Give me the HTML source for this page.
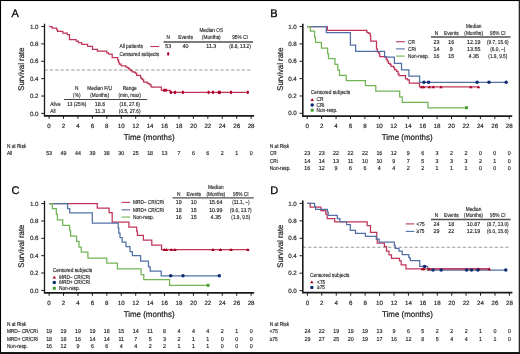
<!DOCTYPE html><html><head><meta charset="utf-8"><style>html,body{margin:0;padding:0;background:#fff;}svg{display:block;will-change:transform;}text{font-family:"Liberation Sans",sans-serif;text-rendering:geometricPrecision;}</style></head><body>
<svg width="520" height="354" viewBox="0 0 520 354">
<rect x="0" y="0" width="520" height="354" fill="#fff"/>
<line x1="44.50" y1="70.00" x2="251.00" y2="70.00" stroke="#9a9a9a" stroke-width="1.1" stroke-dasharray="3.3 2.03"/>
<path d="M44.50 23.70 V115.80" fill="none" stroke="#1a1a1a" stroke-width="1.3"/>
<path d="M43.85 115.80 H254.12" fill="none" stroke="#1a1a1a" stroke-width="1.7"/>
<line x1="41.20" y1="113.40" x2="44.50" y2="113.40" stroke="#1a1a1a" stroke-width="1.0"/>
<text x="38.50" y="115.55" font-size="6.2" text-anchor="end" fill="#1a1a1a" stroke="#1a1a1a" stroke-width="0.15">0.0</text>
<line x1="41.20" y1="96.02" x2="44.50" y2="96.02" stroke="#1a1a1a" stroke-width="1.0"/>
<text x="38.50" y="98.17" font-size="6.2" text-anchor="end" fill="#1a1a1a" stroke="#1a1a1a" stroke-width="0.15">0.2</text>
<line x1="41.20" y1="78.64" x2="44.50" y2="78.64" stroke="#1a1a1a" stroke-width="1.0"/>
<text x="38.50" y="80.79" font-size="6.2" text-anchor="end" fill="#1a1a1a" stroke="#1a1a1a" stroke-width="0.15">0.4</text>
<line x1="41.20" y1="61.26" x2="44.50" y2="61.26" stroke="#1a1a1a" stroke-width="1.0"/>
<text x="38.50" y="63.41" font-size="6.2" text-anchor="end" fill="#1a1a1a" stroke="#1a1a1a" stroke-width="0.15">0.6</text>
<line x1="41.20" y1="43.88" x2="44.50" y2="43.88" stroke="#1a1a1a" stroke-width="1.0"/>
<text x="38.50" y="46.03" font-size="6.2" text-anchor="end" fill="#1a1a1a" stroke="#1a1a1a" stroke-width="0.15">0.8</text>
<line x1="41.20" y1="26.50" x2="44.50" y2="26.50" stroke="#1a1a1a" stroke-width="1.0"/>
<text x="38.50" y="28.65" font-size="6.2" text-anchor="end" fill="#1a1a1a" stroke="#1a1a1a" stroke-width="0.15">1.0</text>
<line x1="49.10" y1="115.80" x2="49.10" y2="118.80" stroke="#1a1a1a" stroke-width="1.0"/>
<text x="49.10" y="127.60" font-size="6.2" text-anchor="middle" fill="#1a1a1a" stroke="#1a1a1a" stroke-width="0.15">0</text>
<line x1="63.53" y1="115.80" x2="63.53" y2="118.80" stroke="#1a1a1a" stroke-width="1.0"/>
<text x="63.53" y="127.60" font-size="6.2" text-anchor="middle" fill="#1a1a1a" stroke="#1a1a1a" stroke-width="0.15">2</text>
<line x1="77.96" y1="115.80" x2="77.96" y2="118.80" stroke="#1a1a1a" stroke-width="1.0"/>
<text x="77.96" y="127.60" font-size="6.2" text-anchor="middle" fill="#1a1a1a" stroke="#1a1a1a" stroke-width="0.15">4</text>
<line x1="92.39" y1="115.80" x2="92.39" y2="118.80" stroke="#1a1a1a" stroke-width="1.0"/>
<text x="92.39" y="127.60" font-size="6.2" text-anchor="middle" fill="#1a1a1a" stroke="#1a1a1a" stroke-width="0.15">6</text>
<line x1="106.82" y1="115.80" x2="106.82" y2="118.80" stroke="#1a1a1a" stroke-width="1.0"/>
<text x="106.82" y="127.60" font-size="6.2" text-anchor="middle" fill="#1a1a1a" stroke="#1a1a1a" stroke-width="0.15">8</text>
<line x1="121.25" y1="115.80" x2="121.25" y2="118.80" stroke="#1a1a1a" stroke-width="1.0"/>
<text x="121.25" y="127.60" font-size="6.2" text-anchor="middle" fill="#1a1a1a" stroke="#1a1a1a" stroke-width="0.15">10</text>
<line x1="135.68" y1="115.80" x2="135.68" y2="118.80" stroke="#1a1a1a" stroke-width="1.0"/>
<text x="135.68" y="127.60" font-size="6.2" text-anchor="middle" fill="#1a1a1a" stroke="#1a1a1a" stroke-width="0.15">12</text>
<line x1="150.11" y1="115.80" x2="150.11" y2="118.80" stroke="#1a1a1a" stroke-width="1.0"/>
<text x="150.11" y="127.60" font-size="6.2" text-anchor="middle" fill="#1a1a1a" stroke="#1a1a1a" stroke-width="0.15">14</text>
<line x1="164.54" y1="115.80" x2="164.54" y2="118.80" stroke="#1a1a1a" stroke-width="1.0"/>
<text x="164.54" y="127.60" font-size="6.2" text-anchor="middle" fill="#1a1a1a" stroke="#1a1a1a" stroke-width="0.15">16</text>
<line x1="178.97" y1="115.80" x2="178.97" y2="118.80" stroke="#1a1a1a" stroke-width="1.0"/>
<text x="178.97" y="127.60" font-size="6.2" text-anchor="middle" fill="#1a1a1a" stroke="#1a1a1a" stroke-width="0.15">18</text>
<line x1="193.40" y1="115.80" x2="193.40" y2="118.80" stroke="#1a1a1a" stroke-width="1.0"/>
<text x="193.40" y="127.60" font-size="6.2" text-anchor="middle" fill="#1a1a1a" stroke="#1a1a1a" stroke-width="0.15">20</text>
<line x1="207.83" y1="115.80" x2="207.83" y2="118.80" stroke="#1a1a1a" stroke-width="1.0"/>
<text x="207.83" y="127.60" font-size="6.2" text-anchor="middle" fill="#1a1a1a" stroke="#1a1a1a" stroke-width="0.15">22</text>
<line x1="222.26" y1="115.80" x2="222.26" y2="118.80" stroke="#1a1a1a" stroke-width="1.0"/>
<text x="222.26" y="127.60" font-size="6.2" text-anchor="middle" fill="#1a1a1a" stroke="#1a1a1a" stroke-width="0.15">24</text>
<line x1="236.69" y1="115.80" x2="236.69" y2="118.80" stroke="#1a1a1a" stroke-width="1.0"/>
<text x="236.69" y="127.60" font-size="6.2" text-anchor="middle" fill="#1a1a1a" stroke="#1a1a1a" stroke-width="0.15">26</text>
<line x1="251.12" y1="115.80" x2="251.12" y2="118.80" stroke="#1a1a1a" stroke-width="1.0"/>
<text x="251.12" y="127.60" font-size="6.2" text-anchor="middle" fill="#1a1a1a" stroke="#1a1a1a" stroke-width="0.15">28</text>
<text transform="translate(149.11 140.10) scale(0.97 1)" font-size="8.2" text-anchor="middle" fill="#1a1a1a" stroke="#1a1a1a" stroke-width="0.2">Time (months)</text>
<text transform="translate(24.40,69.15) rotate(-90) scale(0.95 1)" font-size="8.2" text-anchor="middle" fill="#1a1a1a" stroke="#1a1a1a" stroke-width="0.2">Survival rate</text>
<text x="11.60" y="16.90" font-size="11" text-anchor="start" fill="#000" stroke="#000" stroke-width="0.25">A</text>
<path d="M49.10 26.50 H52.10 V28.20 H56.70 V29.80 H57.60 V31.30 H62.80 V33.20 H67.30 V34.70 H69.50 V39.60 H76.20 V41.00 H78.30 V42.70 H81.70 V44.30 H87.60 V46.30 H92.50 V49.30 H97.40 V51.10 H106.80 V52.80 H108.60 V54.20 H112.20 V57.70 H117.60 V59.90 H118.50 V62.10 H119.20 V64.00 H121.20 V65.90 H125.90 V67.00 H127.50 V67.70 H128.60 V68.80 H130.00 V70.00 H131.00 V70.50 H132.20 V71.90 H134.40 V72.30 H135.70 V73.30 H136.70 V75.30 H140.60 V77.80 H141.60 V78.80 H142.60 V79.90 H143.70 V82.20 H147.00 V83.10 H148.50 V83.80 H150.00 V84.80 H151.10 V86.60 H151.80 V87.10 H161.40 V90.30 H170.00 V92.40 H248.00" fill="none" stroke="#c03458" stroke-width="1.25" stroke-linejoin="miter" stroke-linecap="butt"/>
<ellipse cx="164.10" cy="90.30" rx="1.15" ry="1.8" fill="#b0002a"/>
<ellipse cx="166.10" cy="90.30" rx="1.15" ry="1.8" fill="#b0002a"/>
<ellipse cx="170.90" cy="92.40" rx="1.15" ry="1.8" fill="#b0002a"/>
<ellipse cx="175.00" cy="92.40" rx="1.15" ry="1.8" fill="#b0002a"/>
<ellipse cx="182.90" cy="92.40" rx="1.15" ry="1.8" fill="#b0002a"/>
<ellipse cx="208.60" cy="92.40" rx="1.15" ry="1.8" fill="#b0002a"/>
<ellipse cx="213.00" cy="92.40" rx="1.15" ry="1.8" fill="#b0002a"/>
<ellipse cx="218.80" cy="92.40" rx="1.15" ry="1.8" fill="#b0002a"/>
<ellipse cx="219.90" cy="92.40" rx="1.15" ry="1.8" fill="#b0002a"/>
<ellipse cx="231.00" cy="92.40" rx="1.15" ry="1.8" fill="#b0002a"/>
<ellipse cx="247.80" cy="92.40" rx="1.15" ry="1.8" fill="#b0002a"/>
<text transform="translate(119.50 48.30) scale(0.82 1)" font-size="5.8" text-anchor="start" fill="#1a1a1a" stroke="#1a1a1a" stroke-width="0.14">All patients</text>
<line x1="150.30" y1="46.50" x2="159.20" y2="46.50" stroke="#c03458" stroke-width="1.1"/>
<text transform="translate(119.50 55.70) scale(0.82 1)" font-size="5.8" text-anchor="start" fill="#1a1a1a" stroke="#1a1a1a" stroke-width="0.14">Censored subjects</text>
<ellipse cx="168.20" cy="53.90" rx="1.15" ry="1.8" fill="#b0002a"/>
<text transform="translate(211.30 32.40) scale(0.82 1)" font-size="5.8" text-anchor="middle" fill="#1a1a1a" stroke="#1a1a1a" stroke-width="0.14">Median OS</text>
<text transform="translate(168.20 39.10) scale(0.82 1)" font-size="5.8" text-anchor="middle" fill="#1a1a1a" stroke="#1a1a1a" stroke-width="0.14">N</text>
<text transform="translate(185.50 39.10) scale(0.82 1)" font-size="5.8" text-anchor="middle" fill="#1a1a1a" stroke="#1a1a1a" stroke-width="0.14">Events</text>
<text transform="translate(211.30 39.10) scale(0.82 1)" font-size="5.8" text-anchor="middle" fill="#1a1a1a" stroke="#1a1a1a" stroke-width="0.14">(Months)</text>
<text transform="translate(240.00 39.10) scale(0.82 1)" font-size="5.8" text-anchor="middle" fill="#1a1a1a" stroke="#1a1a1a" stroke-width="0.14">95% CI</text>
<line x1="163.50" y1="42.00" x2="253.00" y2="42.00" stroke="#505050" stroke-width="1.35"/>
<text transform="translate(168.20 48.30) scale(0.92 1)" font-size="5.8" text-anchor="middle" fill="#1a1a1a" stroke="#1a1a1a" stroke-width="0.14">53</text>
<text transform="translate(185.50 48.30) scale(0.92 1)" font-size="5.8" text-anchor="middle" fill="#1a1a1a" stroke="#1a1a1a" stroke-width="0.14">40</text>
<text transform="translate(211.30 48.30) scale(0.92 1)" font-size="5.8" text-anchor="middle" fill="#1a1a1a" stroke="#1a1a1a" stroke-width="0.14">11.3</text>
<text transform="translate(240.00 48.30) scale(0.82 1)" font-size="5.8" text-anchor="middle" fill="#1a1a1a" stroke="#1a1a1a" stroke-width="0.14">(8.8, 13.2)</text>
<text transform="translate(76.80 90.30) scale(0.82 1)" font-size="5.8" text-anchor="middle" fill="#1a1a1a" stroke="#1a1a1a" stroke-width="0.14">N</text>
<text transform="translate(76.80 97.00) scale(0.82 1)" font-size="5.8" text-anchor="middle" fill="#1a1a1a" stroke="#1a1a1a" stroke-width="0.14">(%)</text>
<text transform="translate(99.60 90.30) scale(0.82 1)" font-size="5.8" text-anchor="middle" fill="#1a1a1a" stroke="#1a1a1a" stroke-width="0.14">Median F/U</text>
<text transform="translate(99.60 97.00) scale(0.82 1)" font-size="5.8" text-anchor="middle" fill="#1a1a1a" stroke="#1a1a1a" stroke-width="0.14">(Months)</text>
<text transform="translate(129.70 90.30) scale(0.82 1)" font-size="5.8" text-anchor="middle" fill="#1a1a1a" stroke="#1a1a1a" stroke-width="0.14">Range</text>
<text transform="translate(129.70 97.00) scale(0.82 1)" font-size="5.8" text-anchor="middle" fill="#1a1a1a" stroke="#1a1a1a" stroke-width="0.14">(min, max)</text>
<line x1="64.00" y1="99.50" x2="147.20" y2="99.50" stroke="#444" stroke-width="1.2"/>
<text transform="translate(50.30 105.70) scale(0.82 1)" font-size="5.8" text-anchor="start" fill="#1a1a1a" stroke="#1a1a1a" stroke-width="0.14">Alive</text>
<text transform="translate(50.30 113.10) scale(0.82 1)" font-size="5.8" text-anchor="start" fill="#1a1a1a" stroke="#1a1a1a" stroke-width="0.14">All</text>
<text transform="translate(76.80 105.70) scale(0.82 1)" font-size="5.8" text-anchor="middle" fill="#1a1a1a" stroke="#1a1a1a" stroke-width="0.14">13 (25%)</text>
<text transform="translate(100.00 105.70) scale(0.92 1)" font-size="5.8" text-anchor="middle" fill="#1a1a1a" stroke="#1a1a1a" stroke-width="0.14">18.6</text>
<text transform="translate(129.70 105.70) scale(0.82 1)" font-size="5.8" text-anchor="middle" fill="#1a1a1a" stroke="#1a1a1a" stroke-width="0.14">(16, 27.6)</text>
<text transform="translate(100.00 113.10) scale(0.92 1)" font-size="5.8" text-anchor="middle" fill="#1a1a1a" stroke="#1a1a1a" stroke-width="0.14">11.3</text>
<text transform="translate(129.70 113.10) scale(0.82 1)" font-size="5.8" text-anchor="middle" fill="#1a1a1a" stroke="#1a1a1a" stroke-width="0.14">(0.5, 27.6)</text>
<text transform="translate(6.90 148.20) scale(0.82 1)" font-size="5.8" text-anchor="start" fill="#1a1a1a" stroke="#1a1a1a" stroke-width="0.14">N at Risk</text>
<text transform="translate(6.90 155.30) scale(0.82 1)" font-size="5.8" text-anchor="start" fill="#1a1a1a" stroke="#1a1a1a" stroke-width="0.14">All</text>
<text transform="translate(49.10 155.30) scale(0.92 1)" font-size="5.8" text-anchor="middle" fill="#1a1a1a" stroke="#1a1a1a" stroke-width="0.14">53</text>
<text transform="translate(63.53 155.30) scale(0.92 1)" font-size="5.8" text-anchor="middle" fill="#1a1a1a" stroke="#1a1a1a" stroke-width="0.14">49</text>
<text transform="translate(77.96 155.30) scale(0.92 1)" font-size="5.8" text-anchor="middle" fill="#1a1a1a" stroke="#1a1a1a" stroke-width="0.14">44</text>
<text transform="translate(92.39 155.30) scale(0.92 1)" font-size="5.8" text-anchor="middle" fill="#1a1a1a" stroke="#1a1a1a" stroke-width="0.14">39</text>
<text transform="translate(106.82 155.30) scale(0.92 1)" font-size="5.8" text-anchor="middle" fill="#1a1a1a" stroke="#1a1a1a" stroke-width="0.14">38</text>
<text transform="translate(121.25 155.30) scale(0.92 1)" font-size="5.8" text-anchor="middle" fill="#1a1a1a" stroke="#1a1a1a" stroke-width="0.14">30</text>
<text transform="translate(135.68 155.30) scale(0.92 1)" font-size="5.8" text-anchor="middle" fill="#1a1a1a" stroke="#1a1a1a" stroke-width="0.14">25</text>
<text transform="translate(150.11 155.30) scale(0.92 1)" font-size="5.8" text-anchor="middle" fill="#1a1a1a" stroke="#1a1a1a" stroke-width="0.14">18</text>
<text transform="translate(164.54 155.30) scale(0.92 1)" font-size="5.8" text-anchor="middle" fill="#1a1a1a" stroke="#1a1a1a" stroke-width="0.14">13</text>
<text transform="translate(178.97 155.30) scale(0.92 1)" font-size="5.8" text-anchor="middle" fill="#1a1a1a" stroke="#1a1a1a" stroke-width="0.14">7</text>
<text transform="translate(193.40 155.30) scale(0.92 1)" font-size="5.8" text-anchor="middle" fill="#1a1a1a" stroke="#1a1a1a" stroke-width="0.14">6</text>
<text transform="translate(207.83 155.30) scale(0.92 1)" font-size="5.8" text-anchor="middle" fill="#1a1a1a" stroke="#1a1a1a" stroke-width="0.14">6</text>
<text transform="translate(222.26 155.30) scale(0.92 1)" font-size="5.8" text-anchor="middle" fill="#1a1a1a" stroke="#1a1a1a" stroke-width="0.14">2</text>
<text transform="translate(236.69 155.30) scale(0.92 1)" font-size="5.8" text-anchor="middle" fill="#1a1a1a" stroke="#1a1a1a" stroke-width="0.14">1</text>
<text transform="translate(251.12 155.30) scale(0.92 1)" font-size="5.8" text-anchor="middle" fill="#1a1a1a" stroke="#1a1a1a" stroke-width="0.14">0</text>
<path d="M302.80 23.80 V116.10" fill="none" stroke="#1a1a1a" stroke-width="1.6"/>
<path d="M302.00 116.10 H512.22" fill="none" stroke="#1a1a1a" stroke-width="1.7"/>
<line x1="299.50" y1="113.30" x2="302.80" y2="113.30" stroke="#1a1a1a" stroke-width="1.0"/>
<text x="296.80" y="115.45" font-size="6.2" text-anchor="end" fill="#1a1a1a" stroke="#1a1a1a" stroke-width="0.15">0.0</text>
<line x1="299.50" y1="95.96" x2="302.80" y2="95.96" stroke="#1a1a1a" stroke-width="1.0"/>
<text x="296.80" y="98.11" font-size="6.2" text-anchor="end" fill="#1a1a1a" stroke="#1a1a1a" stroke-width="0.15">0.2</text>
<line x1="299.50" y1="78.62" x2="302.80" y2="78.62" stroke="#1a1a1a" stroke-width="1.0"/>
<text x="296.80" y="80.77" font-size="6.2" text-anchor="end" fill="#1a1a1a" stroke="#1a1a1a" stroke-width="0.15">0.4</text>
<line x1="299.50" y1="61.28" x2="302.80" y2="61.28" stroke="#1a1a1a" stroke-width="1.0"/>
<text x="296.80" y="63.43" font-size="6.2" text-anchor="end" fill="#1a1a1a" stroke="#1a1a1a" stroke-width="0.15">0.6</text>
<line x1="299.50" y1="43.94" x2="302.80" y2="43.94" stroke="#1a1a1a" stroke-width="1.0"/>
<text x="296.80" y="46.09" font-size="6.2" text-anchor="end" fill="#1a1a1a" stroke="#1a1a1a" stroke-width="0.15">0.8</text>
<line x1="299.50" y1="26.60" x2="302.80" y2="26.60" stroke="#1a1a1a" stroke-width="1.0"/>
<text x="296.80" y="28.75" font-size="6.2" text-anchor="end" fill="#1a1a1a" stroke="#1a1a1a" stroke-width="0.15">1.0</text>
<line x1="307.20" y1="116.10" x2="307.20" y2="119.10" stroke="#1a1a1a" stroke-width="1.0"/>
<text x="307.20" y="127.90" font-size="6.2" text-anchor="middle" fill="#1a1a1a" stroke="#1a1a1a" stroke-width="0.15">0</text>
<line x1="321.63" y1="116.10" x2="321.63" y2="119.10" stroke="#1a1a1a" stroke-width="1.0"/>
<text x="321.63" y="127.90" font-size="6.2" text-anchor="middle" fill="#1a1a1a" stroke="#1a1a1a" stroke-width="0.15">2</text>
<line x1="336.06" y1="116.10" x2="336.06" y2="119.10" stroke="#1a1a1a" stroke-width="1.0"/>
<text x="336.06" y="127.90" font-size="6.2" text-anchor="middle" fill="#1a1a1a" stroke="#1a1a1a" stroke-width="0.15">4</text>
<line x1="350.49" y1="116.10" x2="350.49" y2="119.10" stroke="#1a1a1a" stroke-width="1.0"/>
<text x="350.49" y="127.90" font-size="6.2" text-anchor="middle" fill="#1a1a1a" stroke="#1a1a1a" stroke-width="0.15">6</text>
<line x1="364.92" y1="116.10" x2="364.92" y2="119.10" stroke="#1a1a1a" stroke-width="1.0"/>
<text x="364.92" y="127.90" font-size="6.2" text-anchor="middle" fill="#1a1a1a" stroke="#1a1a1a" stroke-width="0.15">8</text>
<line x1="379.35" y1="116.10" x2="379.35" y2="119.10" stroke="#1a1a1a" stroke-width="1.0"/>
<text x="379.35" y="127.90" font-size="6.2" text-anchor="middle" fill="#1a1a1a" stroke="#1a1a1a" stroke-width="0.15">10</text>
<line x1="393.78" y1="116.10" x2="393.78" y2="119.10" stroke="#1a1a1a" stroke-width="1.0"/>
<text x="393.78" y="127.90" font-size="6.2" text-anchor="middle" fill="#1a1a1a" stroke="#1a1a1a" stroke-width="0.15">12</text>
<line x1="408.21" y1="116.10" x2="408.21" y2="119.10" stroke="#1a1a1a" stroke-width="1.0"/>
<text x="408.21" y="127.90" font-size="6.2" text-anchor="middle" fill="#1a1a1a" stroke="#1a1a1a" stroke-width="0.15">14</text>
<line x1="422.64" y1="116.10" x2="422.64" y2="119.10" stroke="#1a1a1a" stroke-width="1.0"/>
<text x="422.64" y="127.90" font-size="6.2" text-anchor="middle" fill="#1a1a1a" stroke="#1a1a1a" stroke-width="0.15">16</text>
<line x1="437.07" y1="116.10" x2="437.07" y2="119.10" stroke="#1a1a1a" stroke-width="1.0"/>
<text x="437.07" y="127.90" font-size="6.2" text-anchor="middle" fill="#1a1a1a" stroke="#1a1a1a" stroke-width="0.15">18</text>
<line x1="451.50" y1="116.10" x2="451.50" y2="119.10" stroke="#1a1a1a" stroke-width="1.0"/>
<text x="451.50" y="127.90" font-size="6.2" text-anchor="middle" fill="#1a1a1a" stroke="#1a1a1a" stroke-width="0.15">20</text>
<line x1="465.93" y1="116.10" x2="465.93" y2="119.10" stroke="#1a1a1a" stroke-width="1.0"/>
<text x="465.93" y="127.90" font-size="6.2" text-anchor="middle" fill="#1a1a1a" stroke="#1a1a1a" stroke-width="0.15">22</text>
<line x1="480.36" y1="116.10" x2="480.36" y2="119.10" stroke="#1a1a1a" stroke-width="1.0"/>
<text x="480.36" y="127.90" font-size="6.2" text-anchor="middle" fill="#1a1a1a" stroke="#1a1a1a" stroke-width="0.15">24</text>
<line x1="494.79" y1="116.10" x2="494.79" y2="119.10" stroke="#1a1a1a" stroke-width="1.0"/>
<text x="494.79" y="127.90" font-size="6.2" text-anchor="middle" fill="#1a1a1a" stroke="#1a1a1a" stroke-width="0.15">26</text>
<line x1="509.22" y1="116.10" x2="509.22" y2="119.10" stroke="#1a1a1a" stroke-width="1.0"/>
<text x="509.22" y="127.90" font-size="6.2" text-anchor="middle" fill="#1a1a1a" stroke="#1a1a1a" stroke-width="0.15">28</text>
<text transform="translate(407.21 140.40) scale(0.97 1)" font-size="8.2" text-anchor="middle" fill="#1a1a1a" stroke="#1a1a1a" stroke-width="0.2">Time (months)</text>
<text transform="translate(282.70,69.15) rotate(-90) scale(0.95 1)" font-size="8.2" text-anchor="middle" fill="#1a1a1a" stroke="#1a1a1a" stroke-width="0.2">Survival rate</text>
<text x="270.20" y="17.00" font-size="11" text-anchor="start" fill="#000" stroke="#000" stroke-width="0.25">B</text>
<path d="M307.20 26.60 H327.30 V30.40 H366.50 V31.10 H367.00 V32.50 H368.80 V33.40 H370.20 V35.40 H370.70 V41.10 H376.50 V48.80 H377.30 V51.80 H378.70 V53.20 H379.70 V56.50 H386.20 V59.00 H387.30 V61.00 H388.40 V63.40 H390.00 V64.40 H391.00 V66.40 H393.70 V67.90 H394.60 V69.90 H396.60 V71.30 H398.00 V73.80 H399.00 V75.50 H405.50 V78.80 H407.50 V79.80 H409.30 V83.20 H419.50 V86.80 H478.50" fill="none" stroke="#c03458" stroke-width="1.25" stroke-linejoin="miter" stroke-linecap="butt"/>
<path d="M307.20 26.60 H326.30 V32.60 H350.40 V45.10 H355.60 V51.30 H384.60 V57.10 H394.40 V63.40 H401.50 V69.80 H408.90 V76.00 H419.60 V82.40 H506.50" fill="none" stroke="#5270a5" stroke-width="1.25" stroke-linejoin="miter" stroke-linecap="butt"/>
<path d="M307.20 26.60 H310.40 V31.20 H314.60 V37.20 H315.50 V42.30 H321.40 V48.10 H327.60 V53.60 H328.50 V58.60 H335.00 V64.30 H337.80 V70.00 H339.50 V75.30 H346.20 V80.50 H365.40 V85.70 H375.80 V91.20 H399.70 V96.90 H402.30 V102.40 H427.90 V107.90 H466.50" fill="none" stroke="#72b454" stroke-width="1.25" stroke-linejoin="miter" stroke-linecap="butt"/>
<path d="M421.70 85.40 L423.50 88.30 L419.90 88.30 Z" fill="#a8001e"/>
<path d="M423.70 85.40 L425.50 88.30 L421.90 88.30 Z" fill="#a8001e"/>
<path d="M429.40 85.40 L431.20 88.30 L427.60 88.30 Z" fill="#a8001e"/>
<path d="M433.30 85.40 L435.10 88.30 L431.50 88.30 Z" fill="#a8001e"/>
<path d="M441.00 85.40 L442.80 88.30 L439.20 88.30 Z" fill="#a8001e"/>
<path d="M470.80 85.40 L472.60 88.30 L469.00 88.30 Z" fill="#a8001e"/>
<path d="M478.50 85.40 L480.30 88.30 L476.70 88.30 Z" fill="#a8001e"/>
<circle cx="424.00" cy="82.30" r="1.75" fill="#0d2b6e"/>
<circle cx="428.60" cy="82.30" r="1.75" fill="#0d2b6e"/>
<circle cx="477.10" cy="82.30" r="1.75" fill="#0d2b6e"/>
<circle cx="489.00" cy="82.30" r="1.75" fill="#0d2b6e"/>
<circle cx="506.20" cy="82.30" r="1.75" fill="#0d2b6e"/>
<rect x="465.05" y="106.25" width="2.9" height="2.9" fill="#3f9a26"/>
<text transform="translate(473.70 28.30) scale(0.82 1)" font-size="5.8" text-anchor="middle" fill="#1a1a1a" stroke="#1a1a1a" stroke-width="0.14">Median</text>
<text transform="translate(436.50 34.50) scale(0.82 1)" font-size="5.8" text-anchor="middle" fill="#1a1a1a" stroke="#1a1a1a" stroke-width="0.14">N</text>
<text transform="translate(451.30 34.50) scale(0.82 1)" font-size="5.8" text-anchor="middle" fill="#1a1a1a" stroke="#1a1a1a" stroke-width="0.14">Events</text>
<text transform="translate(473.70 34.50) scale(0.82 1)" font-size="5.8" text-anchor="middle" fill="#1a1a1a" stroke="#1a1a1a" stroke-width="0.14">(Months)</text>
<text transform="translate(497.80 34.50) scale(0.82 1)" font-size="5.8" text-anchor="middle" fill="#1a1a1a" stroke="#1a1a1a" stroke-width="0.14">95% CI</text>
<line x1="431.00" y1="37.00" x2="510.60" y2="37.00" stroke="#505050" stroke-width="1.35"/>
<line x1="396.10" y1="41.70" x2="404.80" y2="41.70" stroke="#c03458" stroke-width="1.1"/>
<text transform="translate(408.00 43.50) scale(0.82 1)" font-size="5.8" text-anchor="start" fill="#1a1a1a" stroke="#1a1a1a" stroke-width="0.14">CR</text>
<text transform="translate(436.50 43.50) scale(0.92 1)" font-size="5.8" text-anchor="middle" fill="#1a1a1a" stroke="#1a1a1a" stroke-width="0.14">23</text>
<text transform="translate(451.30 43.50) scale(0.92 1)" font-size="5.8" text-anchor="middle" fill="#1a1a1a" stroke="#1a1a1a" stroke-width="0.14">16</text>
<text transform="translate(473.70 43.50) scale(0.92 1)" font-size="5.8" text-anchor="middle" fill="#1a1a1a" stroke="#1a1a1a" stroke-width="0.14">12.19</text>
<text transform="translate(497.80 43.50) scale(0.82 1)" font-size="5.8" text-anchor="middle" fill="#1a1a1a" stroke="#1a1a1a" stroke-width="0.14">(9.7, 15.6)</text>
<line x1="396.10" y1="48.90" x2="404.80" y2="48.90" stroke="#5270a5" stroke-width="1.1"/>
<text transform="translate(408.00 50.70) scale(0.82 1)" font-size="5.8" text-anchor="start" fill="#1a1a1a" stroke="#1a1a1a" stroke-width="0.14">CRi</text>
<text transform="translate(436.50 50.70) scale(0.92 1)" font-size="5.8" text-anchor="middle" fill="#1a1a1a" stroke="#1a1a1a" stroke-width="0.14">14</text>
<text transform="translate(451.30 50.70) scale(0.92 1)" font-size="5.8" text-anchor="middle" fill="#1a1a1a" stroke="#1a1a1a" stroke-width="0.14">9</text>
<text transform="translate(473.70 50.70) scale(0.92 1)" font-size="5.8" text-anchor="middle" fill="#1a1a1a" stroke="#1a1a1a" stroke-width="0.14">13.55</text>
<text transform="translate(497.80 50.70) scale(0.82 1)" font-size="5.8" text-anchor="middle" fill="#1a1a1a" stroke="#1a1a1a" stroke-width="0.14">(6.0, –)</text>
<line x1="396.10" y1="56.10" x2="404.80" y2="56.10" stroke="#72b454" stroke-width="1.1"/>
<text transform="translate(408.00 57.90) scale(0.82 1)" font-size="5.8" text-anchor="start" fill="#1a1a1a" stroke="#1a1a1a" stroke-width="0.14">Non-resp.</text>
<text transform="translate(436.50 57.90) scale(0.92 1)" font-size="5.8" text-anchor="middle" fill="#1a1a1a" stroke="#1a1a1a" stroke-width="0.14">16</text>
<text transform="translate(451.30 57.90) scale(0.92 1)" font-size="5.8" text-anchor="middle" fill="#1a1a1a" stroke="#1a1a1a" stroke-width="0.14">15</text>
<text transform="translate(473.70 57.90) scale(0.92 1)" font-size="5.8" text-anchor="middle" fill="#1a1a1a" stroke="#1a1a1a" stroke-width="0.14">4.35</text>
<text transform="translate(497.80 57.90) scale(0.82 1)" font-size="5.8" text-anchor="middle" fill="#1a1a1a" stroke="#1a1a1a" stroke-width="0.14">(1.9, 9.5)</text>
<text transform="translate(310.80 94.30) scale(0.82 1)" font-size="5.8" text-anchor="start" fill="#1a1a1a" stroke="#1a1a1a" stroke-width="0.14">Censored subjects</text>
<path d="M312.20 98.20 L314.00 101.10 L310.40 101.10 Z" fill="#a8001e"/>
<text transform="translate(316.50 101.20) scale(0.82 1)" font-size="5.8" text-anchor="start" fill="#1a1a1a" stroke="#1a1a1a" stroke-width="0.14">CR</text>
<circle cx="312.20" cy="104.90" r="1.75" fill="#0d2b6e"/>
<text transform="translate(316.50 106.60) scale(0.82 1)" font-size="5.8" text-anchor="start" fill="#1a1a1a" stroke="#1a1a1a" stroke-width="0.14">CRi</text>
<rect x="310.75" y="108.75" width="2.9" height="2.9" fill="#3f9a26"/>
<text transform="translate(316.50 111.90) scale(0.82 1)" font-size="5.8" text-anchor="start" fill="#1a1a1a" stroke="#1a1a1a" stroke-width="0.14">Non-resp.</text>
<text transform="translate(269.80 148.10) scale(0.82 1)" font-size="5.8" text-anchor="start" fill="#1a1a1a" stroke="#1a1a1a" stroke-width="0.14">N at Risk</text>
<text transform="translate(269.80 155.30) scale(0.82 1)" font-size="5.8" text-anchor="start" fill="#1a1a1a" stroke="#1a1a1a" stroke-width="0.14">CR</text>
<text transform="translate(307.20 155.30) scale(0.92 1)" font-size="5.8" text-anchor="middle" fill="#1a1a1a" stroke="#1a1a1a" stroke-width="0.14">23</text>
<text transform="translate(321.63 155.30) scale(0.92 1)" font-size="5.8" text-anchor="middle" fill="#1a1a1a" stroke="#1a1a1a" stroke-width="0.14">23</text>
<text transform="translate(336.06 155.30) scale(0.92 1)" font-size="5.8" text-anchor="middle" fill="#1a1a1a" stroke="#1a1a1a" stroke-width="0.14">22</text>
<text transform="translate(350.49 155.30) scale(0.92 1)" font-size="5.8" text-anchor="middle" fill="#1a1a1a" stroke="#1a1a1a" stroke-width="0.14">22</text>
<text transform="translate(364.92 155.30) scale(0.92 1)" font-size="5.8" text-anchor="middle" fill="#1a1a1a" stroke="#1a1a1a" stroke-width="0.14">22</text>
<text transform="translate(379.35 155.30) scale(0.92 1)" font-size="5.8" text-anchor="middle" fill="#1a1a1a" stroke="#1a1a1a" stroke-width="0.14">16</text>
<text transform="translate(393.78 155.30) scale(0.92 1)" font-size="5.8" text-anchor="middle" fill="#1a1a1a" stroke="#1a1a1a" stroke-width="0.14">12</text>
<text transform="translate(408.21 155.30) scale(0.92 1)" font-size="5.8" text-anchor="middle" fill="#1a1a1a" stroke="#1a1a1a" stroke-width="0.14">9</text>
<text transform="translate(422.64 155.30) scale(0.92 1)" font-size="5.8" text-anchor="middle" fill="#1a1a1a" stroke="#1a1a1a" stroke-width="0.14">6</text>
<text transform="translate(437.07 155.30) scale(0.92 1)" font-size="5.8" text-anchor="middle" fill="#1a1a1a" stroke="#1a1a1a" stroke-width="0.14">3</text>
<text transform="translate(451.50 155.30) scale(0.92 1)" font-size="5.8" text-anchor="middle" fill="#1a1a1a" stroke="#1a1a1a" stroke-width="0.14">2</text>
<text transform="translate(465.93 155.30) scale(0.92 1)" font-size="5.8" text-anchor="middle" fill="#1a1a1a" stroke="#1a1a1a" stroke-width="0.14">2</text>
<text transform="translate(480.36 155.30) scale(0.92 1)" font-size="5.8" text-anchor="middle" fill="#1a1a1a" stroke="#1a1a1a" stroke-width="0.14">0</text>
<text transform="translate(494.79 155.30) scale(0.92 1)" font-size="5.8" text-anchor="middle" fill="#1a1a1a" stroke="#1a1a1a" stroke-width="0.14">0</text>
<text transform="translate(509.22 155.30) scale(0.92 1)" font-size="5.8" text-anchor="middle" fill="#1a1a1a" stroke="#1a1a1a" stroke-width="0.14">0</text>
<text transform="translate(269.80 162.50) scale(0.82 1)" font-size="5.8" text-anchor="start" fill="#1a1a1a" stroke="#1a1a1a" stroke-width="0.14">CRi</text>
<text transform="translate(307.20 162.50) scale(0.92 1)" font-size="5.8" text-anchor="middle" fill="#1a1a1a" stroke="#1a1a1a" stroke-width="0.14">14</text>
<text transform="translate(321.63 162.50) scale(0.92 1)" font-size="5.8" text-anchor="middle" fill="#1a1a1a" stroke="#1a1a1a" stroke-width="0.14">14</text>
<text transform="translate(336.06 162.50) scale(0.92 1)" font-size="5.8" text-anchor="middle" fill="#1a1a1a" stroke="#1a1a1a" stroke-width="0.14">13</text>
<text transform="translate(350.49 162.50) scale(0.92 1)" font-size="5.8" text-anchor="middle" fill="#1a1a1a" stroke="#1a1a1a" stroke-width="0.14">11</text>
<text transform="translate(364.92 162.50) scale(0.92 1)" font-size="5.8" text-anchor="middle" fill="#1a1a1a" stroke="#1a1a1a" stroke-width="0.14">10</text>
<text transform="translate(379.35 162.50) scale(0.92 1)" font-size="5.8" text-anchor="middle" fill="#1a1a1a" stroke="#1a1a1a" stroke-width="0.14">10</text>
<text transform="translate(393.78 162.50) scale(0.92 1)" font-size="5.8" text-anchor="middle" fill="#1a1a1a" stroke="#1a1a1a" stroke-width="0.14">9</text>
<text transform="translate(408.21 162.50) scale(0.92 1)" font-size="5.8" text-anchor="middle" fill="#1a1a1a" stroke="#1a1a1a" stroke-width="0.14">7</text>
<text transform="translate(422.64 162.50) scale(0.92 1)" font-size="5.8" text-anchor="middle" fill="#1a1a1a" stroke="#1a1a1a" stroke-width="0.14">5</text>
<text transform="translate(437.07 162.50) scale(0.92 1)" font-size="5.8" text-anchor="middle" fill="#1a1a1a" stroke="#1a1a1a" stroke-width="0.14">3</text>
<text transform="translate(451.50 162.50) scale(0.92 1)" font-size="5.8" text-anchor="middle" fill="#1a1a1a" stroke="#1a1a1a" stroke-width="0.14">3</text>
<text transform="translate(465.93 162.50) scale(0.92 1)" font-size="5.8" text-anchor="middle" fill="#1a1a1a" stroke="#1a1a1a" stroke-width="0.14">3</text>
<text transform="translate(480.36 162.50) scale(0.92 1)" font-size="5.8" text-anchor="middle" fill="#1a1a1a" stroke="#1a1a1a" stroke-width="0.14">2</text>
<text transform="translate(494.79 162.50) scale(0.92 1)" font-size="5.8" text-anchor="middle" fill="#1a1a1a" stroke="#1a1a1a" stroke-width="0.14">1</text>
<text transform="translate(509.22 162.50) scale(0.92 1)" font-size="5.8" text-anchor="middle" fill="#1a1a1a" stroke="#1a1a1a" stroke-width="0.14">0</text>
<text transform="translate(269.80 169.80) scale(0.82 1)" font-size="5.8" text-anchor="start" fill="#1a1a1a" stroke="#1a1a1a" stroke-width="0.14">Non-resp.</text>
<text transform="translate(307.20 169.80) scale(0.92 1)" font-size="5.8" text-anchor="middle" fill="#1a1a1a" stroke="#1a1a1a" stroke-width="0.14">16</text>
<text transform="translate(321.63 169.80) scale(0.92 1)" font-size="5.8" text-anchor="middle" fill="#1a1a1a" stroke="#1a1a1a" stroke-width="0.14">12</text>
<text transform="translate(336.06 169.80) scale(0.92 1)" font-size="5.8" text-anchor="middle" fill="#1a1a1a" stroke="#1a1a1a" stroke-width="0.14">9</text>
<text transform="translate(350.49 169.80) scale(0.92 1)" font-size="5.8" text-anchor="middle" fill="#1a1a1a" stroke="#1a1a1a" stroke-width="0.14">6</text>
<text transform="translate(364.92 169.80) scale(0.92 1)" font-size="5.8" text-anchor="middle" fill="#1a1a1a" stroke="#1a1a1a" stroke-width="0.14">6</text>
<text transform="translate(379.35 169.80) scale(0.92 1)" font-size="5.8" text-anchor="middle" fill="#1a1a1a" stroke="#1a1a1a" stroke-width="0.14">4</text>
<text transform="translate(393.78 169.80) scale(0.92 1)" font-size="5.8" text-anchor="middle" fill="#1a1a1a" stroke="#1a1a1a" stroke-width="0.14">4</text>
<text transform="translate(408.21 169.80) scale(0.92 1)" font-size="5.8" text-anchor="middle" fill="#1a1a1a" stroke="#1a1a1a" stroke-width="0.14">2</text>
<text transform="translate(422.64 169.80) scale(0.92 1)" font-size="5.8" text-anchor="middle" fill="#1a1a1a" stroke="#1a1a1a" stroke-width="0.14">2</text>
<text transform="translate(437.07 169.80) scale(0.92 1)" font-size="5.8" text-anchor="middle" fill="#1a1a1a" stroke="#1a1a1a" stroke-width="0.14">1</text>
<text transform="translate(451.50 169.80) scale(0.92 1)" font-size="5.8" text-anchor="middle" fill="#1a1a1a" stroke="#1a1a1a" stroke-width="0.14">1</text>
<text transform="translate(465.93 169.80) scale(0.92 1)" font-size="5.8" text-anchor="middle" fill="#1a1a1a" stroke="#1a1a1a" stroke-width="0.14">1</text>
<text transform="translate(480.36 169.80) scale(0.92 1)" font-size="5.8" text-anchor="middle" fill="#1a1a1a" stroke="#1a1a1a" stroke-width="0.14">0</text>
<text transform="translate(494.79 169.80) scale(0.92 1)" font-size="5.8" text-anchor="middle" fill="#1a1a1a" stroke="#1a1a1a" stroke-width="0.14">0</text>
<text transform="translate(509.22 169.80) scale(0.92 1)" font-size="5.8" text-anchor="middle" fill="#1a1a1a" stroke="#1a1a1a" stroke-width="0.14">0</text>
<path d="M44.50 200.80 V292.80" fill="none" stroke="#1a1a1a" stroke-width="1.3"/>
<path d="M43.85 292.80 H254.12" fill="none" stroke="#1a1a1a" stroke-width="1.7"/>
<line x1="41.20" y1="290.40" x2="44.50" y2="290.40" stroke="#1a1a1a" stroke-width="1.0"/>
<text x="38.50" y="292.55" font-size="6.2" text-anchor="end" fill="#1a1a1a" stroke="#1a1a1a" stroke-width="0.15">0.0</text>
<line x1="41.20" y1="273.04" x2="44.50" y2="273.04" stroke="#1a1a1a" stroke-width="1.0"/>
<text x="38.50" y="275.19" font-size="6.2" text-anchor="end" fill="#1a1a1a" stroke="#1a1a1a" stroke-width="0.15">0.2</text>
<line x1="41.20" y1="255.68" x2="44.50" y2="255.68" stroke="#1a1a1a" stroke-width="1.0"/>
<text x="38.50" y="257.83" font-size="6.2" text-anchor="end" fill="#1a1a1a" stroke="#1a1a1a" stroke-width="0.15">0.4</text>
<line x1="41.20" y1="238.32" x2="44.50" y2="238.32" stroke="#1a1a1a" stroke-width="1.0"/>
<text x="38.50" y="240.47" font-size="6.2" text-anchor="end" fill="#1a1a1a" stroke="#1a1a1a" stroke-width="0.15">0.6</text>
<line x1="41.20" y1="220.96" x2="44.50" y2="220.96" stroke="#1a1a1a" stroke-width="1.0"/>
<text x="38.50" y="223.11" font-size="6.2" text-anchor="end" fill="#1a1a1a" stroke="#1a1a1a" stroke-width="0.15">0.8</text>
<line x1="41.20" y1="203.60" x2="44.50" y2="203.60" stroke="#1a1a1a" stroke-width="1.0"/>
<text x="38.50" y="205.75" font-size="6.2" text-anchor="end" fill="#1a1a1a" stroke="#1a1a1a" stroke-width="0.15">1.0</text>
<line x1="49.10" y1="292.80" x2="49.10" y2="295.80" stroke="#1a1a1a" stroke-width="1.0"/>
<text x="49.10" y="304.60" font-size="6.2" text-anchor="middle" fill="#1a1a1a" stroke="#1a1a1a" stroke-width="0.15">0</text>
<line x1="63.53" y1="292.80" x2="63.53" y2="295.80" stroke="#1a1a1a" stroke-width="1.0"/>
<text x="63.53" y="304.60" font-size="6.2" text-anchor="middle" fill="#1a1a1a" stroke="#1a1a1a" stroke-width="0.15">2</text>
<line x1="77.96" y1="292.80" x2="77.96" y2="295.80" stroke="#1a1a1a" stroke-width="1.0"/>
<text x="77.96" y="304.60" font-size="6.2" text-anchor="middle" fill="#1a1a1a" stroke="#1a1a1a" stroke-width="0.15">4</text>
<line x1="92.39" y1="292.80" x2="92.39" y2="295.80" stroke="#1a1a1a" stroke-width="1.0"/>
<text x="92.39" y="304.60" font-size="6.2" text-anchor="middle" fill="#1a1a1a" stroke="#1a1a1a" stroke-width="0.15">6</text>
<line x1="106.82" y1="292.80" x2="106.82" y2="295.80" stroke="#1a1a1a" stroke-width="1.0"/>
<text x="106.82" y="304.60" font-size="6.2" text-anchor="middle" fill="#1a1a1a" stroke="#1a1a1a" stroke-width="0.15">8</text>
<line x1="121.25" y1="292.80" x2="121.25" y2="295.80" stroke="#1a1a1a" stroke-width="1.0"/>
<text x="121.25" y="304.60" font-size="6.2" text-anchor="middle" fill="#1a1a1a" stroke="#1a1a1a" stroke-width="0.15">10</text>
<line x1="135.68" y1="292.80" x2="135.68" y2="295.80" stroke="#1a1a1a" stroke-width="1.0"/>
<text x="135.68" y="304.60" font-size="6.2" text-anchor="middle" fill="#1a1a1a" stroke="#1a1a1a" stroke-width="0.15">12</text>
<line x1="150.11" y1="292.80" x2="150.11" y2="295.80" stroke="#1a1a1a" stroke-width="1.0"/>
<text x="150.11" y="304.60" font-size="6.2" text-anchor="middle" fill="#1a1a1a" stroke="#1a1a1a" stroke-width="0.15">14</text>
<line x1="164.54" y1="292.80" x2="164.54" y2="295.80" stroke="#1a1a1a" stroke-width="1.0"/>
<text x="164.54" y="304.60" font-size="6.2" text-anchor="middle" fill="#1a1a1a" stroke="#1a1a1a" stroke-width="0.15">16</text>
<line x1="178.97" y1="292.80" x2="178.97" y2="295.80" stroke="#1a1a1a" stroke-width="1.0"/>
<text x="178.97" y="304.60" font-size="6.2" text-anchor="middle" fill="#1a1a1a" stroke="#1a1a1a" stroke-width="0.15">18</text>
<line x1="193.40" y1="292.80" x2="193.40" y2="295.80" stroke="#1a1a1a" stroke-width="1.0"/>
<text x="193.40" y="304.60" font-size="6.2" text-anchor="middle" fill="#1a1a1a" stroke="#1a1a1a" stroke-width="0.15">20</text>
<line x1="207.83" y1="292.80" x2="207.83" y2="295.80" stroke="#1a1a1a" stroke-width="1.0"/>
<text x="207.83" y="304.60" font-size="6.2" text-anchor="middle" fill="#1a1a1a" stroke="#1a1a1a" stroke-width="0.15">22</text>
<line x1="222.26" y1="292.80" x2="222.26" y2="295.80" stroke="#1a1a1a" stroke-width="1.0"/>
<text x="222.26" y="304.60" font-size="6.2" text-anchor="middle" fill="#1a1a1a" stroke="#1a1a1a" stroke-width="0.15">24</text>
<line x1="236.69" y1="292.80" x2="236.69" y2="295.80" stroke="#1a1a1a" stroke-width="1.0"/>
<text x="236.69" y="304.60" font-size="6.2" text-anchor="middle" fill="#1a1a1a" stroke="#1a1a1a" stroke-width="0.15">26</text>
<line x1="251.12" y1="292.80" x2="251.12" y2="295.80" stroke="#1a1a1a" stroke-width="1.0"/>
<text x="251.12" y="304.60" font-size="6.2" text-anchor="middle" fill="#1a1a1a" stroke="#1a1a1a" stroke-width="0.15">28</text>
<text transform="translate(149.11 317.10) scale(0.97 1)" font-size="8.2" text-anchor="middle" fill="#1a1a1a" stroke="#1a1a1a" stroke-width="0.2">Time (months)</text>
<text transform="translate(24.40,246.20) rotate(-90) scale(0.95 1)" font-size="8.2" text-anchor="middle" fill="#1a1a1a" stroke="#1a1a1a" stroke-width="0.2">Survival rate</text>
<text x="11.40" y="194.20" font-size="11" text-anchor="start" fill="#000" stroke="#000" stroke-width="0.25">C</text>
<path d="M49.10 203.60 H97.30 V208.20 H109.10 V212.50 H112.20 V222.00 H128.90 V227.00 H136.70 V231.20 H137.40 V235.40 H143.40 V240.20 H151.80 V245.00 H161.60 V249.50 H249.00" fill="none" stroke="#c03458" stroke-width="1.25" stroke-linejoin="miter" stroke-linecap="butt"/>
<path d="M49.10 203.60 H67.60 V208.60 H69.70 V212.80 H92.30 V223.00 H118.20 V228.00 H118.80 V233.20 H120.00 V237.70 H122.20 V242.20 H126.00 V246.60 H130.00 V251.50 H132.40 V255.50 H140.60 V261.20 H148.50 V266.90 H150.20 V271.10 H161.20 V275.80 H219.30" fill="none" stroke="#5270a5" stroke-width="1.25" stroke-linejoin="miter" stroke-linecap="butt"/>
<path d="M49.10 203.60 H52.30 V208.60 H56.30 V214.20 H57.40 V219.90 H62.70 V225.30 H69.70 V230.50 H70.60 V236.00 H76.60 V241.40 H79.00 V247.00 H81.30 V252.10 H87.90 V258.00 H106.80 V263.20 H117.40 V268.80 H141.10 V274.70 H143.80 V279.70 H169.60 V285.30 H208.10" fill="none" stroke="#72b454" stroke-width="1.25" stroke-linejoin="miter" stroke-linecap="butt"/>
<path d="M164.30 248.10 L166.10 251.00 L162.50 251.00 Z" fill="#a8001e"/>
<path d="M166.40 248.10 L168.20 251.00 L164.60 251.00 Z" fill="#a8001e"/>
<path d="M171.30 248.10 L173.10 251.00 L169.50 251.00 Z" fill="#a8001e"/>
<path d="M174.90 248.10 L176.70 251.00 L173.10 251.00 Z" fill="#a8001e"/>
<path d="M213.00 248.10 L214.80 251.00 L211.20 251.00 Z" fill="#a8001e"/>
<path d="M220.40 248.10 L222.20 251.00 L218.60 251.00 Z" fill="#a8001e"/>
<path d="M231.00 248.10 L232.80 251.00 L229.20 251.00 Z" fill="#a8001e"/>
<path d="M247.90 248.10 L249.70 251.00 L246.10 251.00 Z" fill="#a8001e"/>
<circle cx="170.70" cy="275.80" r="1.75" fill="#0d2b6e"/>
<circle cx="183.00" cy="275.80" r="1.75" fill="#0d2b6e"/>
<circle cx="219.30" cy="275.80" r="1.75" fill="#0d2b6e"/>
<rect x="206.65" y="283.85" width="2.9" height="2.9" fill="#3f9a26"/>
<text transform="translate(215.80 188.90) scale(0.82 1)" font-size="5.8" text-anchor="middle" fill="#1a1a1a" stroke="#1a1a1a" stroke-width="0.14">Median</text>
<text transform="translate(178.70 195.60) scale(0.82 1)" font-size="5.8" text-anchor="middle" fill="#1a1a1a" stroke="#1a1a1a" stroke-width="0.14">N</text>
<text transform="translate(193.70 195.60) scale(0.82 1)" font-size="5.8" text-anchor="middle" fill="#1a1a1a" stroke="#1a1a1a" stroke-width="0.14">Events</text>
<text transform="translate(215.80 195.60) scale(0.82 1)" font-size="5.8" text-anchor="middle" fill="#1a1a1a" stroke="#1a1a1a" stroke-width="0.14">(Months)</text>
<text transform="translate(240.80 195.60) scale(0.82 1)" font-size="5.8" text-anchor="middle" fill="#1a1a1a" stroke="#1a1a1a" stroke-width="0.14">95% CI</text>
<line x1="172.50" y1="197.90" x2="253.70" y2="197.90" stroke="#505050" stroke-width="1.35"/>
<line x1="121.50" y1="202.40" x2="130.10" y2="202.40" stroke="#c03458" stroke-width="1.1"/>
<text transform="translate(133.00 204.20) scale(0.82 1)" font-size="5.8" text-anchor="start" fill="#1a1a1a" stroke="#1a1a1a" stroke-width="0.14">MRD– CR/CRi</text>
<text transform="translate(178.70 204.20) scale(0.92 1)" font-size="5.8" text-anchor="middle" fill="#1a1a1a" stroke="#1a1a1a" stroke-width="0.14">19</text>
<text transform="translate(193.70 204.20) scale(0.92 1)" font-size="5.8" text-anchor="middle" fill="#1a1a1a" stroke="#1a1a1a" stroke-width="0.14">10</text>
<text transform="translate(215.80 204.20) scale(0.92 1)" font-size="5.8" text-anchor="middle" fill="#1a1a1a" stroke="#1a1a1a" stroke-width="0.14">15.64</text>
<text transform="translate(240.80 204.20) scale(0.82 1)" font-size="5.8" text-anchor="middle" fill="#1a1a1a" stroke="#1a1a1a" stroke-width="0.14">(11.1, –)</text>
<line x1="121.50" y1="209.80" x2="130.10" y2="209.80" stroke="#5270a5" stroke-width="1.1"/>
<text transform="translate(133.00 211.60) scale(0.82 1)" font-size="5.8" text-anchor="start" fill="#1a1a1a" stroke="#1a1a1a" stroke-width="0.14">MRD+ CR/CRi</text>
<text transform="translate(178.70 211.60) scale(0.92 1)" font-size="5.8" text-anchor="middle" fill="#1a1a1a" stroke="#1a1a1a" stroke-width="0.14">18</text>
<text transform="translate(193.70 211.60) scale(0.92 1)" font-size="5.8" text-anchor="middle" fill="#1a1a1a" stroke="#1a1a1a" stroke-width="0.14">15</text>
<text transform="translate(215.80 211.60) scale(0.92 1)" font-size="5.8" text-anchor="middle" fill="#1a1a1a" stroke="#1a1a1a" stroke-width="0.14">10.99</text>
<text transform="translate(240.80 211.60) scale(0.82 1)" font-size="5.8" text-anchor="middle" fill="#1a1a1a" stroke="#1a1a1a" stroke-width="0.14">(9.6, 13.7)</text>
<line x1="121.50" y1="217.10" x2="130.10" y2="217.10" stroke="#72b454" stroke-width="1.1"/>
<text transform="translate(133.00 218.90) scale(0.82 1)" font-size="5.8" text-anchor="start" fill="#1a1a1a" stroke="#1a1a1a" stroke-width="0.14">Non-resp.</text>
<text transform="translate(178.70 218.90) scale(0.92 1)" font-size="5.8" text-anchor="middle" fill="#1a1a1a" stroke="#1a1a1a" stroke-width="0.14">16</text>
<text transform="translate(193.70 218.90) scale(0.92 1)" font-size="5.8" text-anchor="middle" fill="#1a1a1a" stroke="#1a1a1a" stroke-width="0.14">15</text>
<text transform="translate(215.80 218.90) scale(0.92 1)" font-size="5.8" text-anchor="middle" fill="#1a1a1a" stroke="#1a1a1a" stroke-width="0.14">4.35</text>
<text transform="translate(240.80 218.90) scale(0.82 1)" font-size="5.8" text-anchor="middle" fill="#1a1a1a" stroke="#1a1a1a" stroke-width="0.14">(1.9, 9.5)</text>
<text transform="translate(52.80 271.80) scale(0.82 1)" font-size="5.8" text-anchor="start" fill="#1a1a1a" stroke="#1a1a1a" stroke-width="0.14">Censored subjects</text>
<path d="M54.30 275.70 L56.10 278.60 L52.50 278.60 Z" fill="#a8001e"/>
<text transform="translate(59.00 278.50) scale(0.82 1)" font-size="5.8" text-anchor="start" fill="#1a1a1a" stroke="#1a1a1a" stroke-width="0.14"><tspan font-style="italic">MRD</tspan>– CR/CRi</text>
<circle cx="54.30" cy="282.60" r="1.75" fill="#0d2b6e"/>
<text transform="translate(59.00 284.10) scale(0.82 1)" font-size="5.8" text-anchor="start" fill="#1a1a1a" stroke="#1a1a1a" stroke-width="0.14"><tspan font-style="italic">MRD</tspan>+ CR/CRi</text>
<rect x="52.85" y="286.85" width="2.9" height="2.9" fill="#3f9a26"/>
<text transform="translate(59.00 289.70) scale(0.82 1)" font-size="5.8" text-anchor="start" fill="#1a1a1a" stroke="#1a1a1a" stroke-width="0.14">Non-resp.</text>
<text transform="translate(6.90 325.70) scale(0.82 1)" font-size="5.8" text-anchor="start" fill="#1a1a1a" stroke="#1a1a1a" stroke-width="0.14">N at Risk</text>
<text transform="translate(6.90 333.20) scale(0.82 1)" font-size="5.8" text-anchor="start" fill="#1a1a1a" stroke="#1a1a1a" stroke-width="0.14">MRD– CR/CRi</text>
<text transform="translate(49.10 333.20) scale(0.92 1)" font-size="5.8" text-anchor="middle" fill="#1a1a1a" stroke="#1a1a1a" stroke-width="0.14">19</text>
<text transform="translate(63.53 333.20) scale(0.92 1)" font-size="5.8" text-anchor="middle" fill="#1a1a1a" stroke="#1a1a1a" stroke-width="0.14">19</text>
<text transform="translate(77.96 333.20) scale(0.92 1)" font-size="5.8" text-anchor="middle" fill="#1a1a1a" stroke="#1a1a1a" stroke-width="0.14">19</text>
<text transform="translate(92.39 333.20) scale(0.92 1)" font-size="5.8" text-anchor="middle" fill="#1a1a1a" stroke="#1a1a1a" stroke-width="0.14">19</text>
<text transform="translate(106.82 333.20) scale(0.92 1)" font-size="5.8" text-anchor="middle" fill="#1a1a1a" stroke="#1a1a1a" stroke-width="0.14">18</text>
<text transform="translate(121.25 333.20) scale(0.92 1)" font-size="5.8" text-anchor="middle" fill="#1a1a1a" stroke="#1a1a1a" stroke-width="0.14">15</text>
<text transform="translate(135.68 333.20) scale(0.92 1)" font-size="5.8" text-anchor="middle" fill="#1a1a1a" stroke="#1a1a1a" stroke-width="0.14">14</text>
<text transform="translate(150.11 333.20) scale(0.92 1)" font-size="5.8" text-anchor="middle" fill="#1a1a1a" stroke="#1a1a1a" stroke-width="0.14">11</text>
<text transform="translate(164.54 333.20) scale(0.92 1)" font-size="5.8" text-anchor="middle" fill="#1a1a1a" stroke="#1a1a1a" stroke-width="0.14">8</text>
<text transform="translate(178.97 333.20) scale(0.92 1)" font-size="5.8" text-anchor="middle" fill="#1a1a1a" stroke="#1a1a1a" stroke-width="0.14">4</text>
<text transform="translate(193.40 333.20) scale(0.92 1)" font-size="5.8" text-anchor="middle" fill="#1a1a1a" stroke="#1a1a1a" stroke-width="0.14">4</text>
<text transform="translate(207.83 333.20) scale(0.92 1)" font-size="5.8" text-anchor="middle" fill="#1a1a1a" stroke="#1a1a1a" stroke-width="0.14">4</text>
<text transform="translate(222.26 333.20) scale(0.92 1)" font-size="5.8" text-anchor="middle" fill="#1a1a1a" stroke="#1a1a1a" stroke-width="0.14">2</text>
<text transform="translate(236.69 333.20) scale(0.92 1)" font-size="5.8" text-anchor="middle" fill="#1a1a1a" stroke="#1a1a1a" stroke-width="0.14">1</text>
<text transform="translate(251.12 333.20) scale(0.92 1)" font-size="5.8" text-anchor="middle" fill="#1a1a1a" stroke="#1a1a1a" stroke-width="0.14">0</text>
<text transform="translate(6.90 340.50) scale(0.82 1)" font-size="5.8" text-anchor="start" fill="#1a1a1a" stroke="#1a1a1a" stroke-width="0.14">MRD+ CR/CRi</text>
<text transform="translate(49.10 340.50) scale(0.92 1)" font-size="5.8" text-anchor="middle" fill="#1a1a1a" stroke="#1a1a1a" stroke-width="0.14">18</text>
<text transform="translate(63.53 340.50) scale(0.92 1)" font-size="5.8" text-anchor="middle" fill="#1a1a1a" stroke="#1a1a1a" stroke-width="0.14">18</text>
<text transform="translate(77.96 340.50) scale(0.92 1)" font-size="5.8" text-anchor="middle" fill="#1a1a1a" stroke="#1a1a1a" stroke-width="0.14">16</text>
<text transform="translate(92.39 340.50) scale(0.92 1)" font-size="5.8" text-anchor="middle" fill="#1a1a1a" stroke="#1a1a1a" stroke-width="0.14">14</text>
<text transform="translate(106.82 340.50) scale(0.92 1)" font-size="5.8" text-anchor="middle" fill="#1a1a1a" stroke="#1a1a1a" stroke-width="0.14">14</text>
<text transform="translate(121.25 340.50) scale(0.92 1)" font-size="5.8" text-anchor="middle" fill="#1a1a1a" stroke="#1a1a1a" stroke-width="0.14">11</text>
<text transform="translate(135.68 340.50) scale(0.92 1)" font-size="5.8" text-anchor="middle" fill="#1a1a1a" stroke="#1a1a1a" stroke-width="0.14">7</text>
<text transform="translate(150.11 340.50) scale(0.92 1)" font-size="5.8" text-anchor="middle" fill="#1a1a1a" stroke="#1a1a1a" stroke-width="0.14">5</text>
<text transform="translate(164.54 340.50) scale(0.92 1)" font-size="5.8" text-anchor="middle" fill="#1a1a1a" stroke="#1a1a1a" stroke-width="0.14">3</text>
<text transform="translate(178.97 340.50) scale(0.92 1)" font-size="5.8" text-anchor="middle" fill="#1a1a1a" stroke="#1a1a1a" stroke-width="0.14">2</text>
<text transform="translate(193.40 340.50) scale(0.92 1)" font-size="5.8" text-anchor="middle" fill="#1a1a1a" stroke="#1a1a1a" stroke-width="0.14">1</text>
<text transform="translate(207.83 340.50) scale(0.92 1)" font-size="5.8" text-anchor="middle" fill="#1a1a1a" stroke="#1a1a1a" stroke-width="0.14">1</text>
<text transform="translate(222.26 340.50) scale(0.92 1)" font-size="5.8" text-anchor="middle" fill="#1a1a1a" stroke="#1a1a1a" stroke-width="0.14">0</text>
<text transform="translate(236.69 340.50) scale(0.92 1)" font-size="5.8" text-anchor="middle" fill="#1a1a1a" stroke="#1a1a1a" stroke-width="0.14">0</text>
<text transform="translate(251.12 340.50) scale(0.92 1)" font-size="5.8" text-anchor="middle" fill="#1a1a1a" stroke="#1a1a1a" stroke-width="0.14">0</text>
<text transform="translate(6.90 347.70) scale(0.82 1)" font-size="5.8" text-anchor="start" fill="#1a1a1a" stroke="#1a1a1a" stroke-width="0.14">Non-resp.</text>
<text transform="translate(49.10 347.70) scale(0.92 1)" font-size="5.8" text-anchor="middle" fill="#1a1a1a" stroke="#1a1a1a" stroke-width="0.14">16</text>
<text transform="translate(63.53 347.70) scale(0.92 1)" font-size="5.8" text-anchor="middle" fill="#1a1a1a" stroke="#1a1a1a" stroke-width="0.14">12</text>
<text transform="translate(77.96 347.70) scale(0.92 1)" font-size="5.8" text-anchor="middle" fill="#1a1a1a" stroke="#1a1a1a" stroke-width="0.14">9</text>
<text transform="translate(92.39 347.70) scale(0.92 1)" font-size="5.8" text-anchor="middle" fill="#1a1a1a" stroke="#1a1a1a" stroke-width="0.14">6</text>
<text transform="translate(106.82 347.70) scale(0.92 1)" font-size="5.8" text-anchor="middle" fill="#1a1a1a" stroke="#1a1a1a" stroke-width="0.14">6</text>
<text transform="translate(121.25 347.70) scale(0.92 1)" font-size="5.8" text-anchor="middle" fill="#1a1a1a" stroke="#1a1a1a" stroke-width="0.14">4</text>
<text transform="translate(135.68 347.70) scale(0.92 1)" font-size="5.8" text-anchor="middle" fill="#1a1a1a" stroke="#1a1a1a" stroke-width="0.14">4</text>
<text transform="translate(150.11 347.70) scale(0.92 1)" font-size="5.8" text-anchor="middle" fill="#1a1a1a" stroke="#1a1a1a" stroke-width="0.14">2</text>
<text transform="translate(164.54 347.70) scale(0.92 1)" font-size="5.8" text-anchor="middle" fill="#1a1a1a" stroke="#1a1a1a" stroke-width="0.14">2</text>
<text transform="translate(178.97 347.70) scale(0.92 1)" font-size="5.8" text-anchor="middle" fill="#1a1a1a" stroke="#1a1a1a" stroke-width="0.14">1</text>
<text transform="translate(193.40 347.70) scale(0.92 1)" font-size="5.8" text-anchor="middle" fill="#1a1a1a" stroke="#1a1a1a" stroke-width="0.14">1</text>
<text transform="translate(207.83 347.70) scale(0.92 1)" font-size="5.8" text-anchor="middle" fill="#1a1a1a" stroke="#1a1a1a" stroke-width="0.14">1</text>
<text transform="translate(222.26 347.70) scale(0.92 1)" font-size="5.8" text-anchor="middle" fill="#1a1a1a" stroke="#1a1a1a" stroke-width="0.14">0</text>
<text transform="translate(236.69 347.70) scale(0.92 1)" font-size="5.8" text-anchor="middle" fill="#1a1a1a" stroke="#1a1a1a" stroke-width="0.14">0</text>
<text transform="translate(251.12 347.70) scale(0.92 1)" font-size="5.8" text-anchor="middle" fill="#1a1a1a" stroke="#1a1a1a" stroke-width="0.14">0</text>
<line x1="302.80" y1="247.20" x2="509.50" y2="247.20" stroke="#9a9a9a" stroke-width="1.1" stroke-dasharray="3.3 2.03"/>
<path d="M302.80 200.60 V292.70" fill="none" stroke="#1a1a1a" stroke-width="1.6"/>
<path d="M302.00 292.70 H512.42" fill="none" stroke="#1a1a1a" stroke-width="1.7"/>
<line x1="299.50" y1="290.60" x2="302.80" y2="290.60" stroke="#1a1a1a" stroke-width="1.0"/>
<text x="296.80" y="292.75" font-size="6.2" text-anchor="end" fill="#1a1a1a" stroke="#1a1a1a" stroke-width="0.15">0.0</text>
<line x1="299.50" y1="273.16" x2="302.80" y2="273.16" stroke="#1a1a1a" stroke-width="1.0"/>
<text x="296.80" y="275.31" font-size="6.2" text-anchor="end" fill="#1a1a1a" stroke="#1a1a1a" stroke-width="0.15">0.2</text>
<line x1="299.50" y1="255.72" x2="302.80" y2="255.72" stroke="#1a1a1a" stroke-width="1.0"/>
<text x="296.80" y="257.87" font-size="6.2" text-anchor="end" fill="#1a1a1a" stroke="#1a1a1a" stroke-width="0.15">0.4</text>
<line x1="299.50" y1="238.28" x2="302.80" y2="238.28" stroke="#1a1a1a" stroke-width="1.0"/>
<text x="296.80" y="240.43" font-size="6.2" text-anchor="end" fill="#1a1a1a" stroke="#1a1a1a" stroke-width="0.15">0.6</text>
<line x1="299.50" y1="220.84" x2="302.80" y2="220.84" stroke="#1a1a1a" stroke-width="1.0"/>
<text x="296.80" y="222.99" font-size="6.2" text-anchor="end" fill="#1a1a1a" stroke="#1a1a1a" stroke-width="0.15">0.8</text>
<line x1="299.50" y1="203.40" x2="302.80" y2="203.40" stroke="#1a1a1a" stroke-width="1.0"/>
<text x="296.80" y="205.55" font-size="6.2" text-anchor="end" fill="#1a1a1a" stroke="#1a1a1a" stroke-width="0.15">1.0</text>
<line x1="307.40" y1="292.70" x2="307.40" y2="295.70" stroke="#1a1a1a" stroke-width="1.0"/>
<text x="307.40" y="304.50" font-size="6.2" text-anchor="middle" fill="#1a1a1a" stroke="#1a1a1a" stroke-width="0.15">0</text>
<line x1="321.83" y1="292.70" x2="321.83" y2="295.70" stroke="#1a1a1a" stroke-width="1.0"/>
<text x="321.83" y="304.50" font-size="6.2" text-anchor="middle" fill="#1a1a1a" stroke="#1a1a1a" stroke-width="0.15">2</text>
<line x1="336.26" y1="292.70" x2="336.26" y2="295.70" stroke="#1a1a1a" stroke-width="1.0"/>
<text x="336.26" y="304.50" font-size="6.2" text-anchor="middle" fill="#1a1a1a" stroke="#1a1a1a" stroke-width="0.15">4</text>
<line x1="350.69" y1="292.70" x2="350.69" y2="295.70" stroke="#1a1a1a" stroke-width="1.0"/>
<text x="350.69" y="304.50" font-size="6.2" text-anchor="middle" fill="#1a1a1a" stroke="#1a1a1a" stroke-width="0.15">6</text>
<line x1="365.12" y1="292.70" x2="365.12" y2="295.70" stroke="#1a1a1a" stroke-width="1.0"/>
<text x="365.12" y="304.50" font-size="6.2" text-anchor="middle" fill="#1a1a1a" stroke="#1a1a1a" stroke-width="0.15">8</text>
<line x1="379.55" y1="292.70" x2="379.55" y2="295.70" stroke="#1a1a1a" stroke-width="1.0"/>
<text x="379.55" y="304.50" font-size="6.2" text-anchor="middle" fill="#1a1a1a" stroke="#1a1a1a" stroke-width="0.15">10</text>
<line x1="393.98" y1="292.70" x2="393.98" y2="295.70" stroke="#1a1a1a" stroke-width="1.0"/>
<text x="393.98" y="304.50" font-size="6.2" text-anchor="middle" fill="#1a1a1a" stroke="#1a1a1a" stroke-width="0.15">12</text>
<line x1="408.41" y1="292.70" x2="408.41" y2="295.70" stroke="#1a1a1a" stroke-width="1.0"/>
<text x="408.41" y="304.50" font-size="6.2" text-anchor="middle" fill="#1a1a1a" stroke="#1a1a1a" stroke-width="0.15">14</text>
<line x1="422.84" y1="292.70" x2="422.84" y2="295.70" stroke="#1a1a1a" stroke-width="1.0"/>
<text x="422.84" y="304.50" font-size="6.2" text-anchor="middle" fill="#1a1a1a" stroke="#1a1a1a" stroke-width="0.15">16</text>
<line x1="437.27" y1="292.70" x2="437.27" y2="295.70" stroke="#1a1a1a" stroke-width="1.0"/>
<text x="437.27" y="304.50" font-size="6.2" text-anchor="middle" fill="#1a1a1a" stroke="#1a1a1a" stroke-width="0.15">18</text>
<line x1="451.70" y1="292.70" x2="451.70" y2="295.70" stroke="#1a1a1a" stroke-width="1.0"/>
<text x="451.70" y="304.50" font-size="6.2" text-anchor="middle" fill="#1a1a1a" stroke="#1a1a1a" stroke-width="0.15">20</text>
<line x1="466.13" y1="292.70" x2="466.13" y2="295.70" stroke="#1a1a1a" stroke-width="1.0"/>
<text x="466.13" y="304.50" font-size="6.2" text-anchor="middle" fill="#1a1a1a" stroke="#1a1a1a" stroke-width="0.15">22</text>
<line x1="480.56" y1="292.70" x2="480.56" y2="295.70" stroke="#1a1a1a" stroke-width="1.0"/>
<text x="480.56" y="304.50" font-size="6.2" text-anchor="middle" fill="#1a1a1a" stroke="#1a1a1a" stroke-width="0.15">24</text>
<line x1="494.99" y1="292.70" x2="494.99" y2="295.70" stroke="#1a1a1a" stroke-width="1.0"/>
<text x="494.99" y="304.50" font-size="6.2" text-anchor="middle" fill="#1a1a1a" stroke="#1a1a1a" stroke-width="0.15">26</text>
<line x1="509.42" y1="292.70" x2="509.42" y2="295.70" stroke="#1a1a1a" stroke-width="1.0"/>
<text x="509.42" y="304.50" font-size="6.2" text-anchor="middle" fill="#1a1a1a" stroke="#1a1a1a" stroke-width="0.15">28</text>
<text transform="translate(407.41 317.00) scale(0.97 1)" font-size="8.2" text-anchor="middle" fill="#1a1a1a" stroke="#1a1a1a" stroke-width="0.2">Time (months)</text>
<text transform="translate(282.70,246.20) rotate(-90) scale(0.95 1)" font-size="8.2" text-anchor="middle" fill="#1a1a1a" stroke="#1a1a1a" stroke-width="0.2">Survival rate</text>
<text x="270.20" y="194.20" font-size="11" text-anchor="start" fill="#000" stroke="#000" stroke-width="0.25">D</text>
<path d="M307.40 203.40 H310.20 V207.20 H320.90 V210.70 H325.80 V214.10 H327.20 V218.50 H334.70 V221.90 H367.20 V225.60 H370.50 V232.40 H376.80 V239.30 H377.30 V243.20 H384.40 V246.60 H386.50 V251.00 H389.00 V254.80 H391.50 V258.40 H399.50 V260.90 H401.20 V264.80 H406.00 V268.80 H490.00" fill="none" stroke="#c03458" stroke-width="1.25" stroke-linejoin="miter" stroke-linecap="butt"/>
<path d="M307.40 203.40 H314.60 V206.70 H315.60 V209.30 H327.40 V211.80 H328.20 V215.30 H337.30 V218.50 H339.90 V221.60 H346.60 V224.50 H350.30 V230.30 H355.50 V233.40 H365.40 V236.40 H376.30 V239.20 H379.20 V242.10 H394.30 V245.40 H395.20 V248.40 H399.00 V251.10 H402.20 V254.50 H408.80 V257.40 H409.80 V258.50 H410.40 V260.50 H419.80 V266.40 H427.60 V270.00 H506.00" fill="none" stroke="#5270a5" stroke-width="1.25" stroke-linejoin="miter" stroke-linecap="butt"/>
<line x1="427.00" y1="268.80" x2="490.00" y2="268.80" stroke="#c03458" stroke-width="1.25"/>
<path d="M422.30 267.40 L424.10 270.30 L420.50 270.30 Z" fill="#a8001e"/>
<path d="M423.80 267.40 L425.60 270.30 L422.00 270.30 Z" fill="#a8001e"/>
<path d="M429.20 267.40 L431.00 270.30 L427.40 270.30 Z" fill="#a8001e"/>
<path d="M478.70 267.40 L480.50 270.30 L476.90 270.30 Z" fill="#a8001e"/>
<path d="M489.30 267.40 L491.10 270.30 L487.50 270.30 Z" fill="#a8001e"/>
<circle cx="424.60" cy="266.40" r="1.75" fill="#0d2b6e"/>
<circle cx="433.00" cy="270.00" r="1.75" fill="#0d2b6e"/>
<circle cx="441.20" cy="270.00" r="1.75" fill="#0d2b6e"/>
<circle cx="466.60" cy="270.00" r="1.75" fill="#0d2b6e"/>
<circle cx="471.50" cy="270.00" r="1.75" fill="#0d2b6e"/>
<circle cx="477.90" cy="270.00" r="1.75" fill="#0d2b6e"/>
<circle cx="505.80" cy="270.00" r="1.75" fill="#0d2b6e"/>
<text transform="translate(473.50 210.60) scale(0.82 1)" font-size="5.8" text-anchor="middle" fill="#1a1a1a" stroke="#1a1a1a" stroke-width="0.14">Median</text>
<text transform="translate(436.50 216.80) scale(0.82 1)" font-size="5.8" text-anchor="middle" fill="#1a1a1a" stroke="#1a1a1a" stroke-width="0.14">N</text>
<text transform="translate(451.30 216.80) scale(0.82 1)" font-size="5.8" text-anchor="middle" fill="#1a1a1a" stroke="#1a1a1a" stroke-width="0.14">Events</text>
<text transform="translate(473.50 216.80) scale(0.82 1)" font-size="5.8" text-anchor="middle" fill="#1a1a1a" stroke="#1a1a1a" stroke-width="0.14">(Months)</text>
<text transform="translate(497.80 216.80) scale(0.82 1)" font-size="5.8" text-anchor="middle" fill="#1a1a1a" stroke="#1a1a1a" stroke-width="0.14">95% CI</text>
<line x1="431.00" y1="219.50" x2="510.60" y2="219.50" stroke="#505050" stroke-width="1.35"/>
<line x1="405.80" y1="223.90" x2="414.30" y2="223.90" stroke="#c03458" stroke-width="1.1"/>
<text transform="translate(416.60 225.70) scale(0.82 1)" font-size="5.8" text-anchor="start" fill="#1a1a1a" stroke="#1a1a1a" stroke-width="0.14">&lt;75</text>
<text transform="translate(436.50 225.70) scale(0.92 1)" font-size="5.8" text-anchor="middle" fill="#1a1a1a" stroke="#1a1a1a" stroke-width="0.14">24</text>
<text transform="translate(451.30 225.70) scale(0.92 1)" font-size="5.8" text-anchor="middle" fill="#1a1a1a" stroke="#1a1a1a" stroke-width="0.14">18</text>
<text transform="translate(473.50 225.70) scale(0.92 1)" font-size="5.8" text-anchor="middle" fill="#1a1a1a" stroke="#1a1a1a" stroke-width="0.14">10.87</text>
<text transform="translate(497.80 225.70) scale(0.82 1)" font-size="5.8" text-anchor="middle" fill="#1a1a1a" stroke="#1a1a1a" stroke-width="0.14">(8.7, 13.0)</text>
<line x1="405.80" y1="231.40" x2="414.30" y2="231.40" stroke="#5270a5" stroke-width="1.1"/>
<text transform="translate(416.60 233.20) scale(0.82 1)" font-size="5.8" text-anchor="start" fill="#1a1a1a" stroke="#1a1a1a" stroke-width="0.14">≥75</text>
<text transform="translate(436.50 233.20) scale(0.92 1)" font-size="5.8" text-anchor="middle" fill="#1a1a1a" stroke="#1a1a1a" stroke-width="0.14">29</text>
<text transform="translate(451.30 233.20) scale(0.92 1)" font-size="5.8" text-anchor="middle" fill="#1a1a1a" stroke="#1a1a1a" stroke-width="0.14">22</text>
<text transform="translate(473.50 233.20) scale(0.92 1)" font-size="5.8" text-anchor="middle" fill="#1a1a1a" stroke="#1a1a1a" stroke-width="0.14">12.19</text>
<text transform="translate(497.80 233.20) scale(0.82 1)" font-size="5.8" text-anchor="middle" fill="#1a1a1a" stroke="#1a1a1a" stroke-width="0.14">(6.0, 15.6)</text>
<text transform="translate(310.10 276.60) scale(0.82 1)" font-size="5.8" text-anchor="start" fill="#1a1a1a" stroke="#1a1a1a" stroke-width="0.14">Censored subjects</text>
<path d="M311.80 280.40 L313.60 283.30 L310.00 283.30 Z" fill="#a8001e"/>
<text transform="translate(317.10 283.50) scale(0.82 1)" font-size="5.8" text-anchor="start" fill="#1a1a1a" stroke="#1a1a1a" stroke-width="0.14">&lt;75</text>
<rect x="310.30" y="285.90" width="3.1" height="3.0" rx="0.7" fill="#0d2b6e"/>
<text transform="translate(317.10 289.30) scale(0.82 1)" font-size="5.8" text-anchor="start" fill="#1a1a1a" stroke="#1a1a1a" stroke-width="0.14">≥75</text>
<text transform="translate(269.80 325.70) scale(0.82 1)" font-size="5.8" text-anchor="start" fill="#1a1a1a" stroke="#1a1a1a" stroke-width="0.14">N at Risk</text>
<text transform="translate(269.80 333.20) scale(0.82 1)" font-size="5.8" text-anchor="start" fill="#1a1a1a" stroke="#1a1a1a" stroke-width="0.14">&lt;75</text>
<text transform="translate(307.40 333.20) scale(0.92 1)" font-size="5.8" text-anchor="middle" fill="#1a1a1a" stroke="#1a1a1a" stroke-width="0.14">24</text>
<text transform="translate(321.83 333.20) scale(0.92 1)" font-size="5.8" text-anchor="middle" fill="#1a1a1a" stroke="#1a1a1a" stroke-width="0.14">22</text>
<text transform="translate(336.26 333.20) scale(0.92 1)" font-size="5.8" text-anchor="middle" fill="#1a1a1a" stroke="#1a1a1a" stroke-width="0.14">19</text>
<text transform="translate(350.69 333.20) scale(0.92 1)" font-size="5.8" text-anchor="middle" fill="#1a1a1a" stroke="#1a1a1a" stroke-width="0.14">19</text>
<text transform="translate(365.12 333.20) scale(0.92 1)" font-size="5.8" text-anchor="middle" fill="#1a1a1a" stroke="#1a1a1a" stroke-width="0.14">19</text>
<text transform="translate(379.55 333.20) scale(0.92 1)" font-size="5.8" text-anchor="middle" fill="#1a1a1a" stroke="#1a1a1a" stroke-width="0.14">13</text>
<text transform="translate(393.98 333.20) scale(0.92 1)" font-size="5.8" text-anchor="middle" fill="#1a1a1a" stroke="#1a1a1a" stroke-width="0.14">9</text>
<text transform="translate(408.41 333.20) scale(0.92 1)" font-size="5.8" text-anchor="middle" fill="#1a1a1a" stroke="#1a1a1a" stroke-width="0.14">6</text>
<text transform="translate(422.84 333.20) scale(0.92 1)" font-size="5.8" text-anchor="middle" fill="#1a1a1a" stroke="#1a1a1a" stroke-width="0.14">5</text>
<text transform="translate(437.27 333.20) scale(0.92 1)" font-size="5.8" text-anchor="middle" fill="#1a1a1a" stroke="#1a1a1a" stroke-width="0.14">2</text>
<text transform="translate(451.70 333.20) scale(0.92 1)" font-size="5.8" text-anchor="middle" fill="#1a1a1a" stroke="#1a1a1a" stroke-width="0.14">2</text>
<text transform="translate(466.13 333.20) scale(0.92 1)" font-size="5.8" text-anchor="middle" fill="#1a1a1a" stroke="#1a1a1a" stroke-width="0.14">2</text>
<text transform="translate(480.56 333.20) scale(0.92 1)" font-size="5.8" text-anchor="middle" fill="#1a1a1a" stroke="#1a1a1a" stroke-width="0.14">1</text>
<text transform="translate(494.99 333.20) scale(0.92 1)" font-size="5.8" text-anchor="middle" fill="#1a1a1a" stroke="#1a1a1a" stroke-width="0.14">0</text>
<text transform="translate(509.42 333.20) scale(0.92 1)" font-size="5.8" text-anchor="middle" fill="#1a1a1a" stroke="#1a1a1a" stroke-width="0.14">0</text>
<text transform="translate(269.80 340.70) scale(0.82 1)" font-size="5.8" text-anchor="start" fill="#1a1a1a" stroke="#1a1a1a" stroke-width="0.14">≥75</text>
<text transform="translate(307.40 340.70) scale(0.92 1)" font-size="5.8" text-anchor="middle" fill="#1a1a1a" stroke="#1a1a1a" stroke-width="0.14">29</text>
<text transform="translate(321.83 340.70) scale(0.92 1)" font-size="5.8" text-anchor="middle" fill="#1a1a1a" stroke="#1a1a1a" stroke-width="0.14">27</text>
<text transform="translate(336.26 340.70) scale(0.92 1)" font-size="5.8" text-anchor="middle" fill="#1a1a1a" stroke="#1a1a1a" stroke-width="0.14">25</text>
<text transform="translate(350.69 340.70) scale(0.92 1)" font-size="5.8" text-anchor="middle" fill="#1a1a1a" stroke="#1a1a1a" stroke-width="0.14">20</text>
<text transform="translate(365.12 340.70) scale(0.92 1)" font-size="5.8" text-anchor="middle" fill="#1a1a1a" stroke="#1a1a1a" stroke-width="0.14">19</text>
<text transform="translate(379.55 340.70) scale(0.92 1)" font-size="5.8" text-anchor="middle" fill="#1a1a1a" stroke="#1a1a1a" stroke-width="0.14">17</text>
<text transform="translate(393.98 340.70) scale(0.92 1)" font-size="5.8" text-anchor="middle" fill="#1a1a1a" stroke="#1a1a1a" stroke-width="0.14">16</text>
<text transform="translate(408.41 340.70) scale(0.92 1)" font-size="5.8" text-anchor="middle" fill="#1a1a1a" stroke="#1a1a1a" stroke-width="0.14">12</text>
<text transform="translate(422.84 340.70) scale(0.92 1)" font-size="5.8" text-anchor="middle" fill="#1a1a1a" stroke="#1a1a1a" stroke-width="0.14">8</text>
<text transform="translate(437.27 340.70) scale(0.92 1)" font-size="5.8" text-anchor="middle" fill="#1a1a1a" stroke="#1a1a1a" stroke-width="0.14">5</text>
<text transform="translate(451.70 340.70) scale(0.92 1)" font-size="5.8" text-anchor="middle" fill="#1a1a1a" stroke="#1a1a1a" stroke-width="0.14">4</text>
<text transform="translate(466.13 340.70) scale(0.92 1)" font-size="5.8" text-anchor="middle" fill="#1a1a1a" stroke="#1a1a1a" stroke-width="0.14">4</text>
<text transform="translate(480.56 340.70) scale(0.92 1)" font-size="5.8" text-anchor="middle" fill="#1a1a1a" stroke="#1a1a1a" stroke-width="0.14">1</text>
<text transform="translate(494.99 340.70) scale(0.92 1)" font-size="5.8" text-anchor="middle" fill="#1a1a1a" stroke="#1a1a1a" stroke-width="0.14">1</text>
<text transform="translate(509.42 340.70) scale(0.92 1)" font-size="5.8" text-anchor="middle" fill="#1a1a1a" stroke="#1a1a1a" stroke-width="0.14">0</text>
<rect x="0.5" y="0.5" width="518.8" height="352.3" fill="none" stroke="#000" stroke-width="1.1"/>
<rect x="0" y="352.2" width="520" height="1.8" fill="#111"/>
</svg></body></html>
